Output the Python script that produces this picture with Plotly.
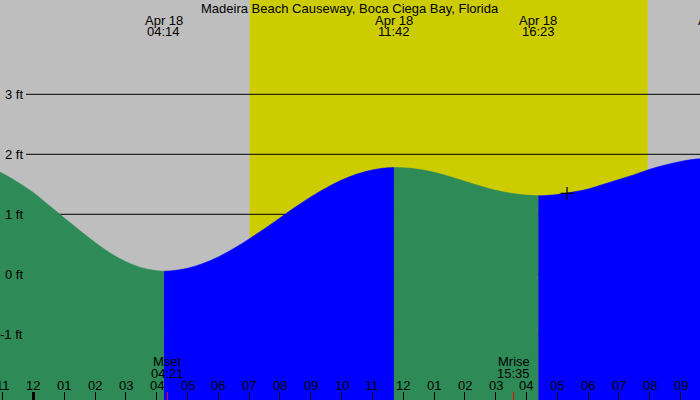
import plotly.graph_objects as go

# ---------------- data ----------------
title = "Madeira Beach Causeway, Boca Ciega Bay, Florida"
date_label = "Apr 18"

# half-hourly tide readings, hours from midnight Apr 18 (negative = Apr 17)
reading_hours = [-1.5, -1.0, -0.5, 0.0, 0.5, 1.0, 1.5, 2.0, 2.5, 3.0, 3.5, 4.0,
                 4.5, 5.0, 5.5, 6.0, 6.5, 7.0, 7.5, 8.0, 8.5, 9.0, 9.5, 10.0,
                 10.5, 11.0, 11.5, 12.0, 12.5, 13.0, 13.5, 14.0, 14.5, 15.0,
                 15.5, 16.0, 16.5, 17.0, 17.5, 18.0, 18.5, 19.0, 19.5, 20.0,
                 20.5, 21.0, 21.5, 22.0]
reading_ft = [1.78, 1.68, 1.53, 1.36, 1.15, 0.94, 0.73, 0.53, 0.35, 0.21, 0.11, 0.06,
              0.06, 0.10, 0.18, 0.29, 0.43, 0.59, 0.76, 0.94, 1.12, 1.29, 1.44, 1.57,
              1.67, 1.74, 1.775, 1.775, 1.75, 1.70, 1.63, 1.55, 1.47, 1.40,
              1.35, 1.32, 1.31, 1.33, 1.37, 1.42, 1.50, 1.58, 1.66, 1.75,
              1.82, 1.88, 1.92, 1.94]

# tide extremes (low / high)
extreme_times = ["04:14", "11:42", "16:23", "22:11"]
extreme_ft = [0.05, 1.78, 1.31, 1.94]

# sun and moon
sunrise, sunset = "07:01", "19:56"
moon_events = ["Mset", "Mrise"]
moon_times = ["04:21", "15:35"]
marker_time, marker_ft = "17:19", 1.35

# axes
level_ft = [3, 2, 1, 0, -1]
hour_ticks = list(range(-1, 22))
hour_labels = ["11", "12", "01", "02", "03", "04", "05", "06", "07", "08", "09", "10",
               "11", "12", "01", "02", "03", "04", "05", "06", "07", "08", "09"]
x_range = [-1.087, 21.632]
y_range = [-2.095, 4.572]

# ---------------- styles ----------------
GRAY = "#bebebe"
YELLOW = "#cccc00"
GREEN = "#2e8b57"
BLUE = "#0000ff"
FONT = "Liberation Sans"
W, H = 700, 400


def hrs(s):
    h, m = s.split(":")
    return int(h) + int(m) / 60.0


def py(pix):
    return 1 - pix / H


def px_paper(t):
    # position along the x axis as a fraction of the plot width
    return (t - x_range[0]) / (x_range[1] - x_range[0])


ext_h = [hrs(t) for t in extreme_times]
pts = sorted(list(zip(reading_hours, reading_ft)) + list(zip(ext_h, extreme_ft)))
xs = [p[0] for p in pts]
ys = [p[1] for p in pts]

# split into segments at extremes
cuts = sorted(set([0] + [xs.index(e) for e in ext_h] + [len(xs) - 1]))

fig = go.Figure()
for a, b in zip(cuts[:-1], cuts[1:]):
    sx = xs[a:b + 1]
    sy = ys[a:b + 1]
    col = GREEN if sy[-1] < sy[0] else BLUE
    fig.add_trace(go.Scatter(x=sx, y=[y_range[0] - 1] * len(sx), mode="lines",
                             line=dict(width=0, color=col), showlegend=False,
                             hoverinfo="skip"))
    fig.add_trace(go.Scatter(x=sx, y=sy, mode="lines", fill="tonexty",
                             fillcolor=col, line=dict(width=0.6, color=col, shape="spline"),
                             showlegend=False))

fig.add_trace(go.Scatter(x=[hrs(marker_time)], y=[marker_ft], mode="markers",
                         marker=dict(symbol="cross-thin", size=9,
                                     line=dict(width=1.2, color="black")),
                         showlegend=False))

shapes = [dict(type="rect", xref="x", yref="paper", x0=hrs(sunrise), x1=hrs(sunset),
               y0=0, y1=1, fillcolor=YELLOW, line=dict(width=0), layer="below")]
for v in level_ft:
    shapes.append(dict(type="line", xref="paper", yref="y", x0=26 / W, x1=1, y0=v, y1=v,
                       line=dict(color="black", width=1), layer="below"))
# midnight tick (thick) and moon event ticks (red)
shapes.append(dict(type="line", xref="x", yref="paper", x0=0, x1=0, y0=0, y1=8 / H,
                   line=dict(color="black", width=3)))
for t in moon_times:
    shapes.append(dict(type="line", xref="x", yref="paper", x0=hrs(t), x1=hrs(t),
                       y0=0, y1=8 / H, line=dict(color="red", width=1)))

ann = []
fnt = dict(family=FONT, size=13, color="black")
ann.append(dict(text=title, xref="paper", yref="paper", x=0.5, y=py(8),
                showarrow=False, xanchor="center", yanchor="middle", font=fnt))
for t in extreme_times:
    ann.append(dict(text=date_label, xref="paper", yref="paper", x=px_paper(hrs(t)), y=py(20),
                    showarrow=False, xanchor="center", yanchor="middle", font=fnt))
    ann.append(dict(text=t, xref="paper", yref="paper", x=px_paper(hrs(t)), y=py(31.5),
                    showarrow=False, xanchor="center", yanchor="middle", font=fnt))
for name, t in zip(moon_events, moon_times):
    ann.append(dict(text=name, xref="x", yref="paper", x=hrs(t), y=py(361.5),
                    showarrow=False, xanchor="center", yanchor="middle", font=fnt))
    ann.append(dict(text=t, xref="x", yref="paper", x=hrs(t), y=py(373.5),
                    showarrow=False, xanchor="center", yanchor="middle", font=fnt))
for v in level_ft:
    ann.append(dict(text=f"{v} ft", xref="paper", yref="y", x=24.5 / W, y=v,
                    showarrow=False, xanchor="right", yanchor="middle", font=fnt))
for h, lab in zip(hour_ticks, hour_labels):
    ann.append(dict(text=lab, xref="x", yref="paper", x=h, y=py(385),
                    showarrow=False, xanchor="center", yanchor="middle", font=fnt))

fig.update_layout(
    width=W, height=H, margin=dict(l=0, r=0, t=0, b=0),
    paper_bgcolor=GRAY, plot_bgcolor=GRAY,
    font=dict(family=FONT, size=13, color="black"),
    shapes=shapes, annotations=ann, showlegend=False,
    xaxis=dict(range=x_range, showgrid=False, zeroline=False, showline=False,
               tickmode="array", tickvals=hour_ticks, showticklabels=False,
               ticks="inside", ticklen=8, tickcolor="black", tickwidth=1),
    yaxis=dict(range=y_range, showgrid=False, zeroline=False, showline=False,
               showticklabels=False, ticks=""),
)

fig.write_html("out.html")
